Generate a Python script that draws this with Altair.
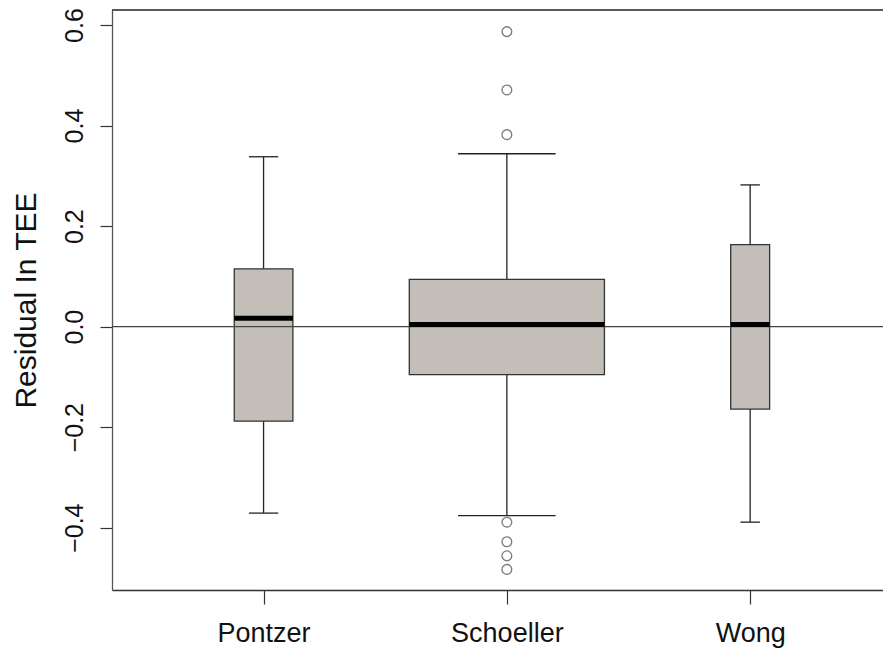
import json
import altair as alt
import pandas as pd

# ---- data ----
groups = ["Pontzer", "Schoeller", "Wong"]
positions = [1, 2, 3]
whisker_low = [-0.371, -0.376, -0.389]
q1 = [-0.188, -0.0955, -0.164]
median = [0.0167, 0.0044, 0.0044]
q3 = [0.115, 0.094, 0.163]
whisker_high = [0.338, 0.344, 0.282]
outlier_group = ["Schoeller"] * 7
outlier_values = [0.587, 0.471, 0.382, -0.389, -0.428, -0.456, -0.483]
y_ticks = [-0.4, -0.2, 0.0, 0.2, 0.4, 0.6]

# ---- style: box half widths (varwidth) in x units ----
box_halfwidth = [0.1205, 0.401, 0.080]

W, H = 771, 580
FONT = "Liberation Sans"
X_DOMAIN = [0.377, 3.546]
Y_DOMAIN = [-0.524, 0.630]

boxes = pd.DataFrame({
    "group": groups, "pos": positions, "lo": whisker_low, "q1": q1,
    "med": median, "q3": q3, "hi": whisker_high, "hw": box_halfwidth,
})
pos_of = dict(zip(groups, positions))
outliers = pd.DataFrame({
    "group": outlier_group,
    "pos": [pos_of[g] for g in outlier_group],
    "value": outlier_values,
})

xs = alt.Scale(domain=X_DOMAIN, nice=False, zero=False)
ys = alt.Scale(domain=Y_DOMAIN, nice=False, zero=False)

x_axis = alt.Axis(
    values=positions,
    labelExpr=f"{json.dumps(groups)}[datum.value - 1]",
    title=None, grid=False, tickSize=14, tickColor="#333", tickWidth=1.2,
    domainColor="#333", domainWidth=1.3,
    labelFont=FONT, labelFontSize=27, labelColor="#111",
    labelBaseline="alphabetic", labelPadding=37, labelAngle=0,
    labelAlign="center",
)
y_axis = alt.Axis(
    values=y_ticks, format=".1f", title="Residual In TEE", grid=False,
    tickSize=12, tickColor="#333", tickWidth=1.2,
    domainColor="#555", domainWidth=1.3,
    labelFont=FONT, labelFontSize=25, labelColor="#111",
    labelAngle=270, labelAlign="center", labelBaseline="alphabetic",
    labelPadding=18,
    titleFont=FONT, titleFontSize=30, titleFontWeight="normal",
    titleColor="#111", titleAngle=270, titleAlign="center",
    titleBaseline="alphabetic", titleX=-77, titleY=290,
)

base = alt.Chart(boxes).transform_calculate(
    xl="datum.pos - datum.hw", xr="datum.pos + datum.hw",
    cl="datum.pos - datum.hw / 2", cr="datum.pos + datum.hw / 2",
)

whisk_lo = base.mark_rule(color="#222", strokeWidth=1.3).encode(
    x=alt.X("pos:Q", scale=xs, axis=x_axis),
    y=alt.Y("lo:Q", scale=ys, axis=y_axis),
    y2="q1:Q",
)
whisk_hi = base.mark_rule(color="#222", strokeWidth=1.3).encode(
    x="pos:Q", y="q3:Q", y2="hi:Q",
)
cap_lo = base.mark_rule(color="#222", strokeWidth=1.3).encode(
    x="cl:Q", x2="cr:Q", y="lo:Q",
)
cap_hi = base.mark_rule(color="#222", strokeWidth=1.3).encode(
    x="cl:Q", x2="cr:Q", y="hi:Q",
)
box = base.mark_rect(fill="#c3bfb8", stroke="#333", strokeWidth=1.3).encode(
    x="xl:Q", x2="xr:Q", y="q1:Q", y2="q3:Q",
)
zero = alt.Chart(pd.DataFrame({"z": [0.0]})).mark_rule(
    color="#444", strokeWidth=1.2
).encode(y="z:Q", x=alt.value(0), x2=alt.value(W))
med = base.mark_rule(color="#000", strokeWidth=5).encode(
    x="xl:Q", x2="xr:Q", y="med:Q",
)
top = alt.Chart(pd.DataFrame({"t": [0]})).mark_rule(
    color="#222", strokeWidth=1.6
).encode(y=alt.value(0), x=alt.value(0), x2=alt.value(W))
pts = alt.Chart(outliers).mark_point(
    shape="circle", filled=False, size=95, stroke="#444", strokeWidth=1.3
).encode(x="pos:Q", y="value:Q")

chart = alt.layer(
    whisk_lo, whisk_hi, cap_lo, cap_hi, box, zero, med, pts, top
).properties(
    width=W, height=H,
    autosize=alt.AutoSizeParams(type="none"),
    padding={"left": 104, "top": 2, "right": 0, "bottom": 59},
    background="white",
).configure_view(stroke=None)

chart.save("out.html", embed_options={"renderer": "svg", "actions": False})
